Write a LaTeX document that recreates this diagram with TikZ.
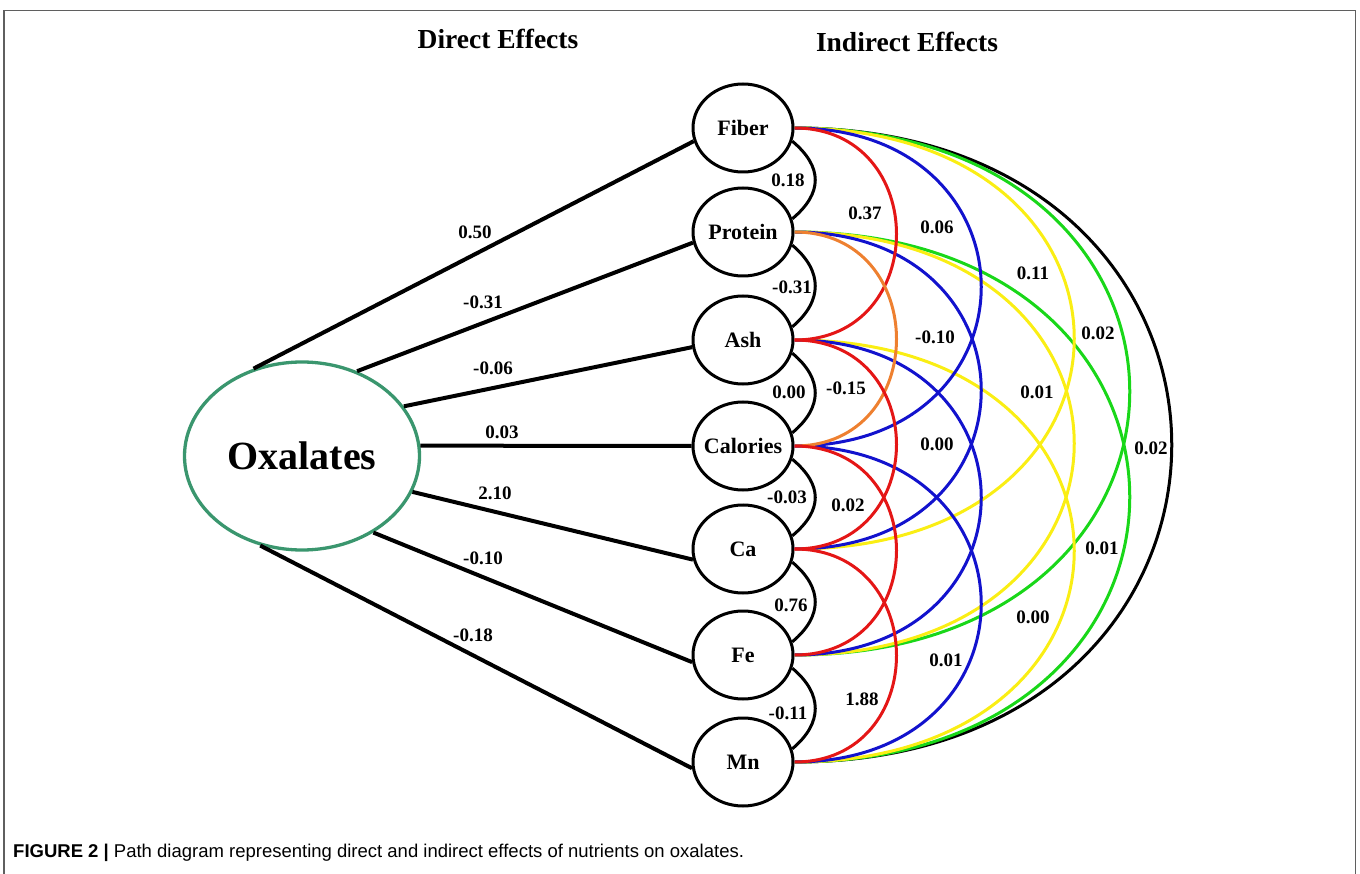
\documentclass[tikz,border=0pt]{standalone}
\usepackage{fontspec}
\setmainfont{Liberation Serif}
\newfontfamily\capfont{Liberation Sans}
\usetikzlibrary{shapes.geometric}

\definecolor{oxgreen}{RGB}{58,150,110}
\definecolor{framegray}{RGB}{95,95,95}
\definecolor{arcred}{RGB}{228,22,22}
\definecolor{arcorange}{RGB}{238,128,48}
\definecolor{arcblue}{RGB}{18,18,205}
\definecolor{arcyellow}{RGB}{250,238,20}
\definecolor{arcgreen}{RGB}{25,215,25}

\begin{document}
\begin{tikzpicture}[
    nutrient/.style={ellipse, draw, line width=3pt, fill=white,
                     minimum width=100pt, minimum height=88pt,
                     inner xsep=-12pt, inner ysep=0pt,
                     font=\bfseries\fontsize{22}{24}\selectfont},
    target/.style={ellipse, draw=oxgreen, line width=3.3pt,
                   minimum width=235pt, minimum height=188pt, inner sep=2pt,
                   font=\bfseries\fontsize{40}{44}\selectfont},
    direct/.style={line width=4pt},
    coef/.style={inner sep=1pt, font=\bfseries\fontsize{19}{21}\selectfont},
    heading/.style={font=\bfseries\fontsize{27.5}{30}\selectfont},
    corr/.style={line width=3pt},
    onestep/.style={corr, black},
    twostep/.style={corr, arcred},
    threestep/.style={corr, arcblue},
    fourstep/.style={corr, arcyellow},
    fivestep/.style={corr, arcgreen},
    sixstep/.style={corr, black}
]
  \useasboundingbox (0,0) rectangle (1360pt,-874pt);

  % frame, open at the bottom
  \draw[framegray, line width=1.5pt] (4pt,-874pt) -- (4pt,-10.5pt)
      -- (1355.5pt,-10.5pt) -- (1355.5pt,-874pt);

  \node[heading] (dirhead) at (498pt,-39pt) {Direct Effects};
  \node[heading] (indhead) at (907pt,-42pt) {Indirect Effects};

  % response
  \node[target] (ox) at (302pt,-456pt) {Oxalates};

  % nutrients
  \node[nutrient] (fib) at (743pt,-128pt) {Fiber};
  \node[nutrient] (pro) at (743pt,-232pt) {Protein};
  \node[nutrient] (ash) at (743pt,-340pt) {Ash};
  \node[nutrient] (cal) at (743pt,-446pt) {Calories};
  \node[nutrient] (ca) at (743pt,-549pt) {Ca};
  \node[nutrient] (fe) at (743pt,-655pt) {Fe};
  \node[nutrient] (mn) at (743pt,-762pt) {Mn};

  % direct paths
  \draw[direct] (ox.119) -- (fib.195);
  \draw[direct] (ox.57) -- (pro.192);
  \draw[direct] (ox.26) -- (ash.188);
  \draw[direct] (ox.5) -- (cal.180);
  \draw[direct] (ox.-18) -- (ca.192);
  \draw[direct] (ox.-47) -- (fe.188);
  \draw[direct] (ox.-115) -- (mn.187);

  \node[coef] (d1) at (475pt,-232pt) {0.50};
  \node[coef] (d2) at (483pt,-302pt) {-0.31};
  \node[coef] (d3) at (493pt,-368pt) {-0.06};
  \node[coef] (d4) at (502pt,-432pt) {0.03};
  \node[coef] (d5) at (495pt,-493pt) {2.10};
  \node[coef] (d6) at (483pt,-558pt) {-0.10};
  \node[coef] (d7) at (473pt,-635pt) {-0.18};

  % widest arcs first
  \draw[sixstep] (fib.east) .. controls +(0:503pt) and +(0:503pt) .. (mn.east);

  \draw[fivestep] (fib.east) .. controls +(0:447pt) and +(0:447pt) .. (fe.east);
  \draw[fivestep] (pro.east) .. controls +(0:447pt) and +(0:447pt) .. (mn.east);

  \draw[fourstep] (fib.east) .. controls +(0:373pt) and +(0:373pt) .. (ca.east);
  \draw[fourstep] (pro.east) .. controls +(0:373pt) and +(0:373pt) .. (fe.east);
  \draw[fourstep] (ash.east) .. controls +(0:373pt) and +(0:373pt) .. (mn.east);

  \draw[threestep] (fib.east) .. controls +(0:249pt) and +(0:249pt) .. (cal.east);
  \draw[threestep] (pro.east) .. controls +(0:249pt) and +(0:249pt) .. (ca.east);
  \draw[threestep] (ash.east) .. controls +(0:249pt) and +(0:249pt) .. (fe.east);
  \draw[threestep] (cal.east) .. controls +(0:249pt) and +(0:249pt) .. (mn.east);

  \draw[twostep] (fib.east) .. controls +(0:136pt) and +(0:136pt) .. (ash.east);
  \draw[twostep, arcorange] (pro.east) .. controls +(0:136pt) and +(0:136pt) .. (cal.east);
  \draw[twostep] (ash.east) .. controls +(0:136pt) and +(0:136pt) .. (ca.east);
  \draw[twostep] (cal.east) .. controls +(0:136pt) and +(0:136pt) .. (fe.east);
  \draw[twostep] (ca.east) .. controls +(0:136pt) and +(0:136pt) .. (mn.east);

  % neighbours
  \draw[onestep] (fib.-15) .. controls +(-40:40pt) and +(40:40pt) .. (pro.15);
  \draw[onestep] (pro.-15) .. controls +(-40:40pt) and +(40:40pt) .. (ash.15);
  \draw[onestep] (ash.-15) .. controls +(-40:40pt) and +(40:40pt) .. (cal.15);
  \draw[onestep] (cal.-15) .. controls +(-40:40pt) and +(40:40pt) .. (ca.15);
  \draw[onestep] (ca.-15) .. controls +(-40:40pt) and +(40:40pt) .. (fe.15);
  \draw[onestep] (fe.-15) .. controls +(-40:40pt) and +(40:40pt) .. (mn.15);

  % indirect coefficients
  \node[coef] (i1) at (788pt,-180pt) {0.18};
  \node[coef] (i2) at (865pt,-213pt) {0.37};
  \node[coef] (i3) at (937pt,-227pt) {0.06};
  \node[coef] (i4) at (1033pt,-273pt) {0.11};
  \node[coef] (i5) at (1098pt,-333pt) {0.02};
  \node[coef] (i6) at (792pt,-287pt) {-0.31};
  \node[coef] (i7) at (935pt,-337pt) {-0.10};
  \node[coef] (i8) at (1037pt,-392pt) {0.01};
  \node[coef] (i9) at (789pt,-392pt) {0.00};
  \node[coef] (i10) at (846pt,-388pt) {-0.15};
  \node[coef] (i11) at (937pt,-444pt) {0.00};
  \node[coef] (i12) at (1151pt,-448pt) {0.02};
  \node[coef] (i13) at (787pt,-497pt) {-0.03};
  \node[coef] (i14) at (848pt,-505pt) {0.02};
  \node[coef] (i15) at (1102pt,-548pt) {0.01};
  \node[coef] (i16) at (791pt,-605pt) {0.76};
  \node[coef] (i17) at (1033pt,-617pt) {0.00};
  \node[coef] (i18) at (946pt,-660pt) {0.01};
  \node[coef] (i19) at (788pt,-713pt) {-0.11};
  \node[coef] (i20) at (862pt,-699pt) {1.88};

  \node[anchor=base west, inner sep=0pt, font=\capfont\fontsize{18.5}{22}\selectfont]
    (caption) at (13pt,-857pt)
    {\textbf{FIGURE 2 |} Path diagram representing direct and indirect effects of nutrients on oxalates.};
\end{tikzpicture}
\end{document}
